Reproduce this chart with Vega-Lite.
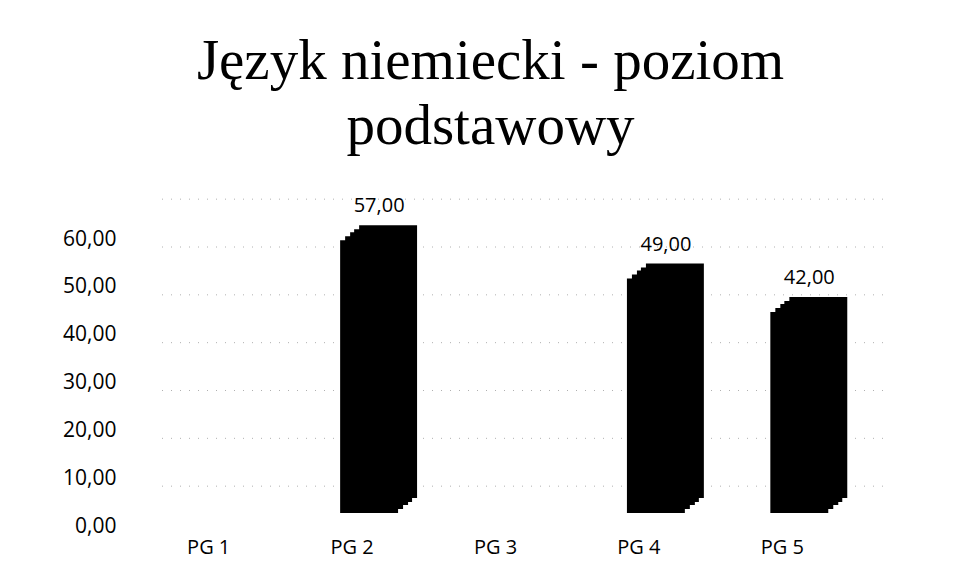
{
  "$schema": "https://vega.github.io/schema/vega-lite/v6.json",
  "width": 717,
  "height": 287,
  "autosize": "none",
  "padding": {"left": 154, "top": 226, "right": 88, "bottom": 71},
  "background": "white",
  "title": {
    "text": ["Język niemiecki - poziom", "podstawowy"],
    "font": "Liberation Serif",
    "fontSize": 57,
    "fontWeight": "normal",
    "color": "#000000",
    "lineHeight": 65,
    "anchor": "middle",
    "dx": -22,
    "offset": 40
  },
  "config": {
    "view": {"stroke": null},
    "locale": {"number": {"decimal": ",", "thousands": " ", "grouping": [3], "currency": ["", " zł"]}}
  },
  "data": {
    "values": [
      {"szkola": "PG 1", "wynik": null},
      {"szkola": "PG 2", "wynik": 57},
      {"szkola": "PG 3", "wynik": null},
      {"szkola": "PG 4", "wynik": 49},
      {"szkola": "PG 5", "wynik": 42}
    ]
  },
  "encoding": {
    "y": {
      "field": "wynik",
      "type": "quantitative",
      "scale": {"domain": [0, 60], "nice": false, "zero": true},
      "axis": {
        "title": null,
        "values": [0, 10, 20, 30, 40, 50, 60],
        "format": ".2f",
        "labelFont": "Open Sans",
        "labelFontSize": 21,
        "labelColor": "#000000",
        "ticks": false,
        "domain": false,
        "grid": false,
        "labelPadding": 38,
        "labelOffset": 13
      }
    }
  },
  "layer": [
    {
      "data": {"values": [{"wynik": 10}, {"wynik": 20}, {"wynik": 30}, {"wynik": 40}, {"wynik": 50}, {"wynik": 60}, {"wynik": 70}]},
      "mark": {"type": "rule", "yOffset": 21, "xOffset": 12, "color": "#b0b0b0", "strokeWidth": 1, "strokeDash": [1, 8]},
      "encoding": {}
    },
    {
      "transform": [{"filter": "datum.wynik != null"}],
      "mark": {"type": "bar", "color": "#000000", "xOffset": 19, "yOffset": -15},
      "encoding": {
        "x": {"field": "szkola", "type": "nominal", "scale": {"domain": ["PG 1", "PG 2", "PG 3", "PG 4", "PG 5"], "paddingInner": 0.596, "paddingOuter": 0.298},
          "axis": {"title": null, "labelFont": "Open Sans", "labelFontSize": 20, "labelColor": "#000000", "ticks": false, "domain": false, "labelPadding": 24, "labelOffset": -17, "labelAngle": 0}}
      }
    },
    {
      "transform": [{"filter": "datum.wynik != null"}],
      "mark": {"type": "bar", "color": "#000000", "xOffset": 14, "yOffset": -11},
      "encoding": {
        "x": {"field": "szkola", "type": "nominal", "scale": {"domain": ["PG 1", "PG 2", "PG 3", "PG 4", "PG 5"], "paddingInner": 0.596, "paddingOuter": 0.298},
          "axis": {"title": null, "labelFont": "Open Sans", "labelFontSize": 20, "labelColor": "#000000", "ticks": false, "domain": false, "labelPadding": 24, "labelOffset": -17, "labelAngle": 0}}
      }
    },
    {
      "transform": [{"filter": "datum.wynik != null"}],
      "mark": {"type": "bar", "color": "#000000", "xOffset": 10, "yOffset": -8},
      "encoding": {
        "x": {"field": "szkola", "type": "nominal", "scale": {"domain": ["PG 1", "PG 2", "PG 3", "PG 4", "PG 5"], "paddingInner": 0.596, "paddingOuter": 0.298},
          "axis": {"title": null, "labelFont": "Open Sans", "labelFontSize": 20, "labelColor": "#000000", "ticks": false, "domain": false, "labelPadding": 24, "labelOffset": -17, "labelAngle": 0}}
      }
    },
    {
      "transform": [{"filter": "datum.wynik != null"}],
      "mark": {"type": "bar", "color": "#000000", "xOffset": 5, "yOffset": -4},
      "encoding": {
        "x": {"field": "szkola", "type": "nominal", "scale": {"domain": ["PG 1", "PG 2", "PG 3", "PG 4", "PG 5"], "paddingInner": 0.596, "paddingOuter": 0.298},
          "axis": {"title": null, "labelFont": "Open Sans", "labelFontSize": 20, "labelColor": "#000000", "ticks": false, "domain": false, "labelPadding": 24, "labelOffset": -17, "labelAngle": 0}}
      }
    },
    {
      "transform": [{"filter": "datum.wynik != null"}],
      "mark": {"type": "bar", "color": "#000000"},
      "encoding": {
        "x": {"field": "szkola", "type": "nominal", "scale": {"domain": ["PG 1", "PG 2", "PG 3", "PG 4", "PG 5"], "paddingInner": 0.596, "paddingOuter": 0.298},
          "axis": {"title": null, "labelFont": "Open Sans", "labelFontSize": 20, "labelColor": "#000000", "ticks": false, "domain": false, "labelPadding": 24, "labelOffset": -17, "labelAngle": 0}}
      }
    },
    {
      "transform": [{"filter": "datum.wynik != null"}],
      "mark": {"type": "text", "font": "Open Sans", "fontSize": 20, "color": "#000000", "align": "center", "baseline": "bottom", "dx": 10, "dy": -24},
      "encoding": {
        "x": {"field": "szkola", "type": "nominal", "scale": {"domain": ["PG 1", "PG 2", "PG 3", "PG 4", "PG 5"], "paddingInner": 0.596, "paddingOuter": 0.298},
          "axis": {"title": null, "labelFont": "Open Sans", "labelFontSize": 20, "labelColor": "#000000", "ticks": false, "domain": false, "labelPadding": 24, "labelOffset": -17, "labelAngle": 0}},
        "text": {"field": "wynik", "type": "quantitative", "format": ".2f"}
      }
    }
  ]
}
